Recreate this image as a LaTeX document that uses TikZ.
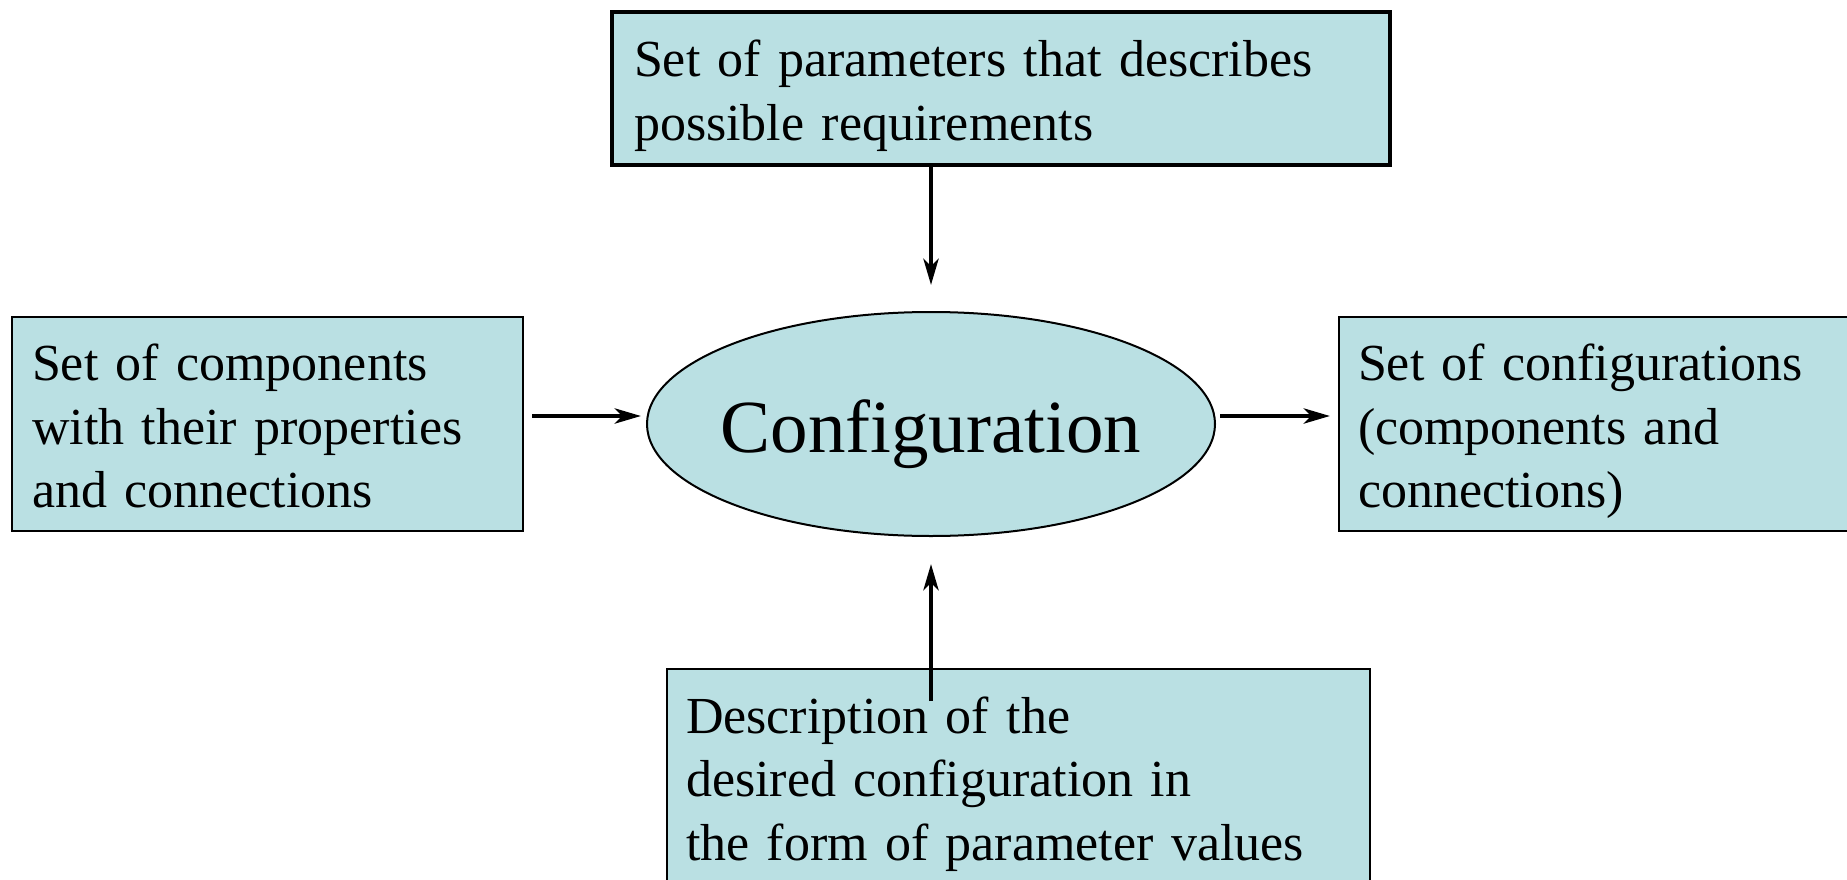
\documentclass[tikz,border=0pt]{standalone}
\usepackage{fontspec}
\setmainfont{Liberation Serif}
\usetikzlibrary{arrows.meta,shapes.geometric}
\definecolor{cfgfill}{RGB}{186,224,227}

\begin{document}
\begin{tikzpicture}[
  x=1pt, y=-1pt,
  box/.style={rectangle, draw, fill=cfgfill, line width=2pt, outer sep=0pt, anchor=north west,
    inner xsep=20pt, inner ysep=0pt, align=left, font=\fontsize{52}{63.6}\selectfont,
    text height=63.5pt, text depth=150.5pt},
  arr/.style={-{Stealth[length=26pt, width=15pt, inset=7pt]}, line width=4.5pt},
]
  \useasboundingbox (0,0) rectangle (1847,880);
  \clip (0,0) rectangle (1847,880);

  \node[box, line width=4.5pt, inner xsep=22pt, text width=734pt, text height=64.6pt, text depth=88.4pt] (req) at (612,12)
    {Set of parameters that describes\\possible requirements};
  \node[box, text width=471pt] (comp) at (12,317)
    {Set of components\\with their properties\\and connections};
  \node[box, inner xsep=19pt, text width=542pt] (res) at (1339,317)
    {Set of configurations\\(components and\\connections)};
  \node[box, inner xsep=19pt, text width=665pt, text height=64pt, text depth=240pt] (desc) at (667,669)
    {Description of the\\desired configuration in\\the form of parameter values};

  \node[ellipse, draw, fill=cfgfill, line width=2pt, minimum width=568pt, minimum height=224pt, inner sep=0pt,
    font=\fontsize{75}{90}\selectfont, text height=56pt, text depth=0pt] (conf) at (931,424)
    {\makebox[0pt]{Configuration}};

  \draw[arr] (conf.north |- req.south) -- ([yshift=26pt]conf.north);
  \draw[arr] ([xshift=9pt,yshift=8pt]comp.east) -- ([xshift=-5pt,yshift=8pt]conf.west);
  \draw[arr] ([xshift=4pt,yshift=8pt]conf.east) -- ([xshift=-9pt,yshift=8pt]res.west);
  \draw[arr, shorten <=-32pt] (conf.south |- desc.north) -- ([yshift=-27pt]conf.south);
\end{tikzpicture}
\end{document}
